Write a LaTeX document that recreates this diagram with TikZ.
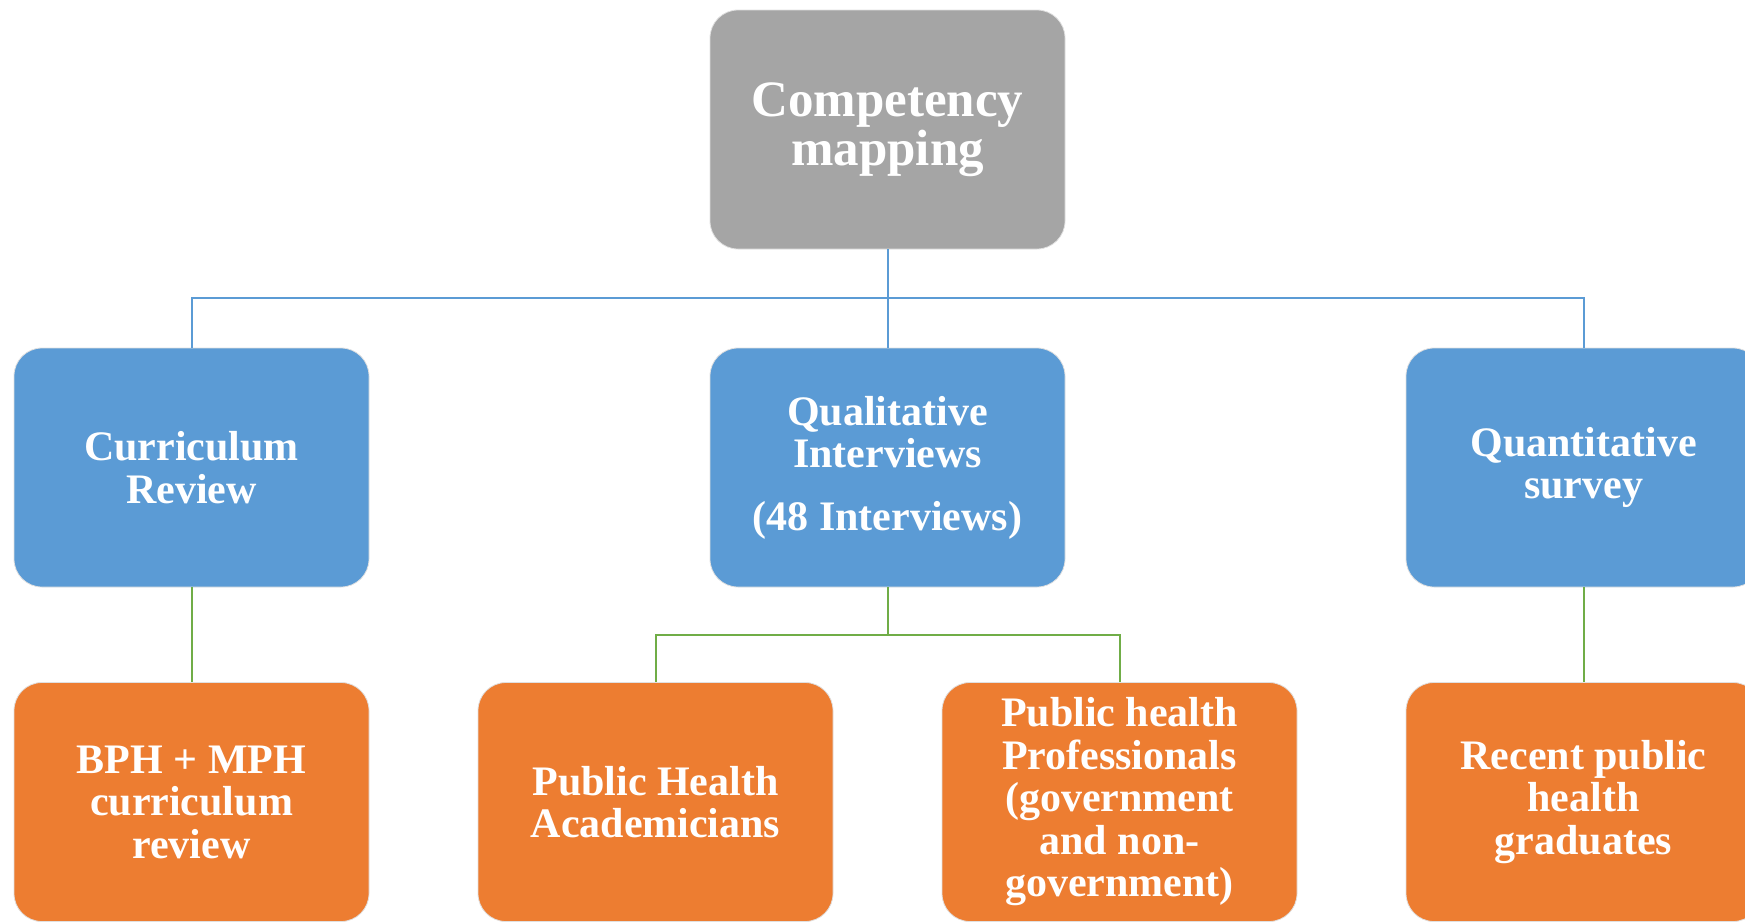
\documentclass[tikz,border=0pt]{standalone}
\usepackage{fontspec}
\setmainfont{Liberation Serif}
\begin{document}
\begin{tikzpicture}[x=1pt,y=-1pt,
  box/.style={rectangle, rounded corners=28pt, minimum width=355pt, minimum height=239pt,
    draw=black!12, line width=0.8pt, text=white, align=center, inner sep=0pt,
    font=\bfseries\fontsize{42}{42.5}\selectfont},
  rootbox/.style={box, fill=rootgray, font=\bfseries\fontsize{51}{49}\selectfont},
  midbox/.style={box, fill=midblue},
  leafbox/.style={box, fill=leaforange},
  blueline/.style={draw=midblue, line width=2pt},
  greenline/.style={draw=leafgreen, line width=2pt}]
\definecolor{rootgray}{HTML}{A5A5A5}
\definecolor{midblue}{HTML}{5B9BD5}
\definecolor{leaforange}{HTML}{ED7D31}
\definecolor{leafgreen}{HTML}{70AD47}
\useasboundingbox (0,0) rectangle (1745,922);
\clip (0,0) rectangle (1745,922);

% boxes
\node[rootbox] (root) at (887.5,129.5) {Competency\\mapping};

\node[midbox] (cur)  at (191.5,467.5)  {Curriculum\\Review};
\node[midbox] (qual) at (887.5,467.5)  {Qualitative\\Interviews\\[20pt](48 Interviews)};
\node[midbox] (quan) at (1583.5,467.5) {Quantitative\\survey};

\node[leafbox] (bph)    at (191.5,802)  {BPH + MPH\\curriculum\\review};
\node[leafbox] (acad)   at (655.5,802)  {Public Health\\Academicians};
\node[leafbox] (prof)   at (1119.5,802) {Public health\\Professionals\\(government\\and non-\\government)};
\node[leafbox] (recent) at (1583.5,802) {Recent public\\health\\graduates};

% junction points of the connectors
\coordinate (hubtop) at (887.5,298);
\coordinate (hubmid) at (887.5,635);

% first level connectors
\draw[blueline] (root.south) -- (hubtop);
\draw[blueline] (cur.north) |- (hubtop) -| (quan.north);
\draw[blueline] (hubtop) -- (qual.north);

% second level connectors
\draw[greenline] (cur.south) -- (bph.north);
\draw[greenline] (qual.south) -- (hubmid);
\draw[greenline] (acad.north) |- (hubmid) -| (prof.north);
\draw[greenline] (quan.south) -- (recent.north);
\end{tikzpicture}
\end{document}
